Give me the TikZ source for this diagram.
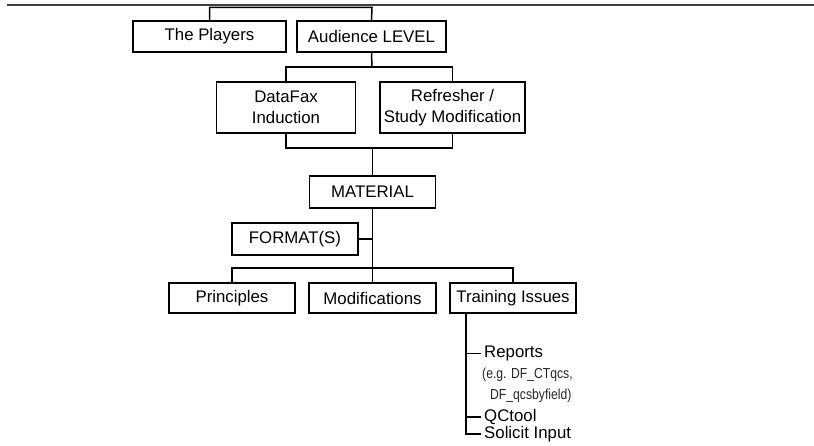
\documentclass[tikz,border=0pt]{standalone}
\usepackage{fontspec}
\setmainfont{Liberation Sans}
\newfontfamily\narrowfont[FakeStretch=0.84]{Liberation Sans}
\begin{document}
\begin{tikzpicture}[x=1pt,y=-1pt,
  box/.style={draw,line width=1.5pt,align=center,inner sep=0pt,font=\fontsize{16.8}{21}\selectfont},
  conn/.style={line width=1.5pt},
  item/.style={anchor=west,inner sep=3pt,font=\fontsize{16.8}{18}\selectfont},
  note/.style={anchor=west,inner sep=0pt,text=black!85,font=\narrowfont\fontsize{14.5}{17}\selectfont}]
\useasboundingbox (0,0) rectangle (814,446);
% top rule
\coordinate (ruleL) at (7,5.5);
\coordinate (ruleR) at (814,5.5);
\draw[line width=2pt,black!75] (ruleL) -- (ruleR);
% boxes
\node[box,minimum width=153pt,minimum height=31pt] (players) at (209.5,36.5) {The Players};
\node[box,minimum width=149pt,minimum height=31pt] (audience) at (371.5,36.5) {Audience LEVEL};
\node[box,minimum width=139pt,minimum height=51pt] (datafax) at (286,107.5) {DataFax\\Induction};
\node[box,minimum width=145pt,minimum height=51pt] (refresher) at (452.5,107.5) {Refresher /\\Study Modification};
\node[box,minimum width=126pt,minimum height=32pt] (material) at (372.5,192) {MATERIAL};
\node[box,minimum width=126pt,minimum height=32pt] (format) at (295,239) {FORMAT(S)};
\node[box,minimum width=126pt,minimum height=30pt] (principles) at (232,298) {Principles};
\node[box,minimum width=127pt,minimum height=30pt] (modifications) at (372.5,298) {Modifications};
\node[box,minimum width=126pt,minimum height=30pt] (training) at (513,298) {Training Issues};
% connectors
\coordinate (b0) at (372,7.5);
\draw[conn] (players.north) |- (b0) -- (audience.north);
\coordinate (b1) at (372,67);
\draw[conn] (audience.south) -- (b1);
\draw[conn] (datafax.north) |- (b1) -| (refresher.north);
\coordinate (b2) at (372.5,148);
\draw[conn] (datafax.south) |- (b2) -| (refresher.south);
\draw[conn] (b2) -- (material.north);
\coordinate (b3) at (372.5,268);
\draw[conn] (material.south) -- (b3);
\draw[conn] (format.east) -- (format.east -| b3);
\draw[conn] (principles.north) |- (b3) -| (training.north);
\draw[conn] (b3) -- (modifications.north);
% training issues list
\node[item] (reports) at (481,353.5) {Reports};
\node[note] (eg1) at (482,375) {(e.g. DF\_CTqcs,};
\node[note] (eg2) at (490,396) {DF\_qcsbyfield)};
\node[item] (qctool) at (481,417) {QCtool};
\node[item] (solicit) at (481,434) {Solicit Input};
\coordinate (tl) at (466,434);
\draw[conn] (training.south -| tl) -- (tl) -- (solicit.west);
\draw[conn] (reports.west -| tl) -- (reports.west);
\draw[conn] (qctool.west -| tl) -- (qctool.west);
\end{tikzpicture}
\end{document}
